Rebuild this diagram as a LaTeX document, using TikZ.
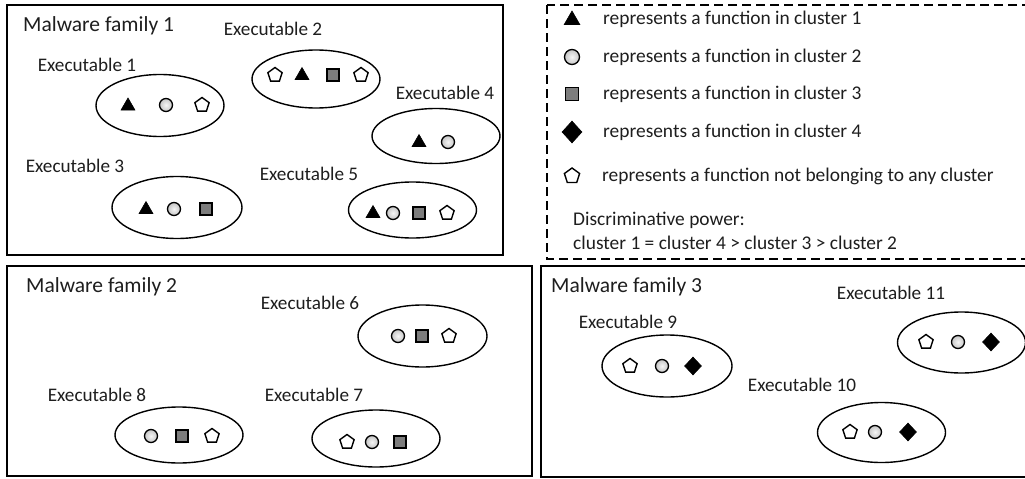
\documentclass[tikz,border=0pt]{standalone}
\usepackage{fontspec}
\setmainfont{Carlito}
\usetikzlibrary{shapes.geometric}
\definecolor{txt}{RGB}{30,30,30}
\definecolor{sqfill}{RGB}{125,125,125}
\tikzset{
  famframe/.style={draw=black, line width=1.9pt},
  legframe/.style={draw=black, line width=1.8pt, dash pattern=on 9pt off 5pt},
  exe/.style={ellipse, draw=black, line width=1.4pt, minimum width=128pt, minimum height=58pt, inner sep=0pt},
  ttl/.style={anchor=base west, font=\fontsize{21.5}{24}\selectfont, text=txt, inner sep=0pt},
  lbl/.style={anchor=base, font=\fontsize{19.2}{22}\selectfont, text=txt, inner sep=0pt},
  leg/.style={anchor=west, font=\fontsize{19.4}{22}\selectfont, text=txt, inner sep=0pt},
  tri/.style={regular polygon, regular polygon sides=3, fill=black, draw=black, line width=0.6pt, minimum size=16pt, inner sep=0pt},
  crc/.style={circle, draw=black, line width=1.3pt, inner color=gray!8, outer color=gray!45, minimum size=13pt, inner sep=0pt},
  sqr/.style={rectangle, draw=black, line width=1.2pt, fill=sqfill, minimum size=12pt, inner sep=0pt},
  dmd/.style={diamond, fill=black, draw=black, line width=0.6pt, minimum width=17pt, minimum height=18pt, inner sep=0pt},
  pnt/.style={regular polygon, regular polygon sides=5, draw=black, fill=white, line width=1.4pt, minimum size=15pt, inner sep=0pt},
}
\begin{document}
\begin{tikzpicture}[x=1pt, y=-1pt]
\clip (0,0) rectangle (1025,479);
\fill[white] (0,0) rectangle (1025,479);

% frames
\draw[famframe] (7,5) rectangle (503,255);
\draw[legframe] (547,5) rectangle (1032,259);
\draw[famframe] (7,266) rectangle (532,476);
\draw[famframe] (541,266) rectangle (1032,477);

% ---------- Malware family 1 ----------
\node[ttl] (t1) at (23,31) {Malware family 1};
\node[lbl] (l1) at (87,71) {Executable 1};
\node[lbl] (l2) at (273,35) {Executable 2};
\node[lbl] (l3) at (75,172) {Executable 3};
\node[lbl] (l4) at (445,99) {Executable 4};
\node[lbl] (l5) at (309,180) {Executable 5};

\node[exe, minimum height=62pt] (e1) at (160,105.5) {};
\node[tri] (e1a) at (128,106) {};
\node[crc] (e1b) at (166,105) {};
\node[pnt] (e1c) at (202,105) {};

\node[exe] (e2) at (316,79) {};
\node[pnt] (e2a) at (275,75) {};
\node[tri] (e2b) at (302,75.5) {};
\node[sqr] (e2c) at (333,75) {};
\node[pnt] (e2d) at (361,75) {};

\node[exe, minimum height=55pt] (e4) at (436,136) {};
\node[tri] (e4a) at (419,142.5) {};
\node[crc] (e4b) at (448,142) {};

\node[exe, minimum height=62pt, minimum width=130pt] (e3) at (177,207.5) {};
\node[tri] (e3a) at (146,209.5) {};
\node[crc] (e3b) at (174,209) {};
\node[sqr] (e3c) at (206,209) {};

\node[exe, minimum height=56pt] (e5) at (412.5,210) {};
\node[tri] (e5a) at (373,213.5) {};
\node[crc] (e5b) at (393,213) {};
\node[sqr] (e5c) at (419,213) {};
\node[pnt] (e5d) at (447,213) {};

% ---------- Legend ----------
\node[tri, minimum size=18pt] (k1) at (572,20) {};
\node[leg] (k1t) at (603,19) {represents a function in cluster 1};
\node[crc, minimum size=15pt] (k2) at (572,57) {};
\node[leg] (k2t) at (603,57) {represents a function in cluster 2};
\node[sqr, minimum size=13.5pt] (k3) at (572,94) {};
\node[leg] (k3t) at (603,94) {represents a function in cluster 3};
\node[dmd, minimum width=20pt, minimum height=22pt] (k4) at (572,132) {};
\node[leg] (k4t) at (603,132) {represents a function in cluster 4};
\node[pnt, minimum size=16pt] (k5) at (572,176) {};
\node[leg] (k5t) at (602,176) {represents a function not belonging to any cluster};
\node[leg] (k6) at (573,220) {Discriminative power:};
\node[leg] (k7) at (573,243) {cluster 1 = cluster 4 > cluster 3 > cluster 2};

% ---------- Malware family 2 ----------
\node[ttl] (t2) at (26,292) {Malware family 2};
\node[lbl] (l6) at (310,309) {Executable 6};
\node[lbl] (l8) at (97,401) {Executable 8};
\node[lbl] (l7) at (314,401) {Executable 7};

\node[exe, minimum width=129pt, minimum height=62pt] (e6) at (422.5,336) {};
\node[crc] (e6a) at (398,336) {};
\node[sqr] (e6b) at (422,336) {};
\node[pnt] (e6c) at (449,336) {};

\node[exe, minimum height=56pt] (e8) at (179,435) {};
\node[crc] (e8a) at (151,436) {};
\node[sqr] (e8b) at (182,436) {};
\node[pnt] (e8c) at (212,436) {};

\node[exe, minimum height=57pt] (e7) at (376,438.5) {};
\node[pnt] (e7a) at (347,442) {};
\node[crc] (e7b) at (372,442) {};
\node[sqr] (e7c) at (400,442) {};

% ---------- Malware family 3 ----------
\node[ttl] (t3) at (551,292) {Malware family 3};
\node[lbl] (l11) at (891,299) {Executable 11};
\node[lbl] (l9) at (628,328) {Executable 9};
\node[lbl] (l10) at (802,391) {Executable 10};

\node[exe, minimum height=61pt] (e11) at (961.5,342.5) {};
\node[pnt] (e11a) at (926,342) {};
\node[crc] (e11b) at (958,342) {};
\node[dmd] (e11c) at (991,342) {};

\node[exe, minimum width=130pt, minimum height=62pt] (e9) at (667,366) {};
\node[pnt] (e9a) at (630,366) {};
\node[crc] (e9b) at (662,366) {};
\node[dmd] (e9c) at (693,366) {};

\node[exe, minimum height=60pt] (e10) at (881.5,432.5) {};
\node[pnt] (e10a) at (850,432) {};
\node[crc] (e10b) at (875,432) {};
\node[dmd] (e10c) at (908,432) {};
\end{tikzpicture}
\end{document}
